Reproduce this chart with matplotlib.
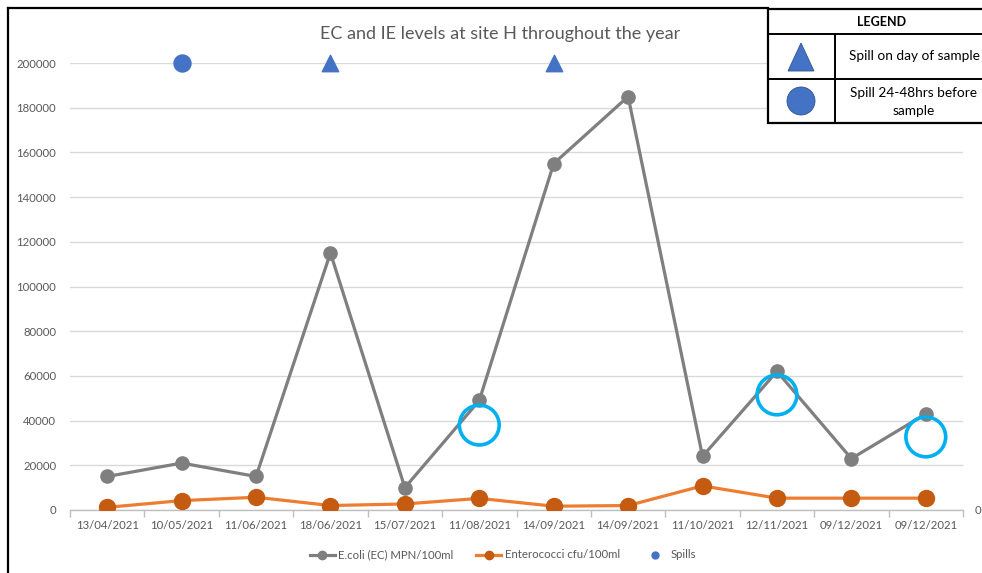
import matplotlib
matplotlib.use("Agg")
import matplotlib.pyplot as plt
from matplotlib.lines import Line2D
from matplotlib.patches import Circle, Polygon, Rectangle

plt.rcParams['font.family'] = ['Lato', 'DejaVu Sans']

# Sampling dates and measured levels
dates = ["13/04/2021", "10/05/2021", "11/06/2021", "18/06/2021", "15/07/2021",
         "11/08/2021", "14/09/2021", "14/09/2021", "11/10/2021", "12/11/2021",
         "09/12/2021", "09/12/2021"]
ecoli = [15000, 21000, 15000, 115000, 10000, 49000, 155000, 185000,
         24000, 62000, 23000, 43000]
enterococci = [1200, 4200, 5700, 2000, 2700, 5200, 1700, 2000,
               10800, 5300, 5300, 5300]

# Spill events, plotted on the top gridline
spill_level = 200000
spill_day_idx = [3, 6]        # spill on day of sample
spill_prior_idx = [1]         # spill 24-48 hrs before sample

# Highlighted samples (open rings)
ring_idx = [5, 9, 11]
ring_vals = [38000, 51500, 32700]

yticks = [0, 20000, 40000, 60000, 80000, 100000, 120000, 140000,
          160000, 180000, 200000]

GRAY = "#7F7F7F"
ORANGE_LINE = "#ED7D31"
ORANGE_MARK = "#C55A11"
BLUE = "#4472C4"
CYAN = "#00B0F0"
TXT = "#595959"

W, H = 982, 573
fig = plt.figure(figsize=(W / 100, H / 100), dpi=100)

ax_l, ax_r, ax_b, ax_t = 70, 963, 510, 63
ax = fig.add_axes([ax_l / W, 1 - ax_b / H, (ax_r - ax_l) / W, (ax_b - ax_t) / H])

x = list(range(len(dates)))
ax.plot(x, ecoli, color=GRAY, lw=2.3, marker='o', ms=9.5,
        label="E.coli (EC) MPN/100ml", zorder=3)
ax.plot(x, enterococci, color=ORANGE_LINE, lw=2.3, marker='o', ms=11.5,
        mfc=ORANGE_MARK, mec=ORANGE_MARK, label="Enterococci cfu/100ml", zorder=3)

ax.scatter(spill_prior_idx, [spill_level] * len(spill_prior_idx), s=150,
           marker='o', color=BLUE, clip_on=False, zorder=4)
ax.scatter(spill_day_idx, [spill_level] * len(spill_day_idx), s=140,
           marker='^', color=BLUE, clip_on=False, zorder=4)

ax.scatter(ring_idx, ring_vals, s=820, marker='o', facecolors='none',
           edgecolors=CYAN, linewidths=2.6, zorder=5)

ax.set_xlim(-0.5, len(dates) - 0.5)
ax.set_ylim(0, 200000)
ax.set_yticks(yticks)
ax.set_yticklabels([str(v) for v in yticks])
ax.set_xticks(x)
ax.set_xticklabels(dates)
ax.set_xticks([i - 0.5 for i in range(len(dates) + 1)], minor=True)
ax.tick_params(axis='x', which='major', length=0, pad=7, labelsize=8.2, labelcolor=TXT)
ax.tick_params(axis='x', which='minor', length=5, color="#BFBFBF", width=1)
ax.tick_params(axis='y', length=0, pad=10, labelsize=8.2, labelcolor=TXT)

ax.grid(axis='y', color="#D9D9D9", lw=1)
ax.set_axisbelow(True)
for s in ['top', 'right', 'left']:
    ax.spines[s].set_visible(False)
ax.spines['bottom'].set_color("#BFBFBF")
ax.spines['bottom'].set_linewidth(1)

# secondary axis with only the zero label
ax2 = ax.twinx()
ax2.set_ylim(0, 200000)
ax2.set_yticks([0])
ax2.set_yticklabels(["0"])
ax2.tick_params(axis='y', length=0, pad=8.5, labelsize=8.2, labelcolor=TXT)
for s in ax2.spines.values():
    s.set_visible(False)

fig.text(500 / W, 1 - 34 / H, "EC and IE levels at site H throughout the year",
         ha='center', va='center', fontsize=13, color=TXT)

handles = [
    Line2D([], [], color=GRAY, lw=2.3, marker='o', ms=6),
    Line2D([], [], color=ORANGE_LINE, lw=2.3, marker='o', ms=6,
           mfc=ORANGE_MARK, mec=ORANGE_MARK),
    Line2D([], [], color=BLUE, lw=0, marker='o', ms=5),
]
fig.legend(handles, ["E.coli (EC) MPN/100ml", "Enterococci cfu/100ml", "Spills"],
           loc='center', bbox_to_anchor=(503 / W, 1 - 555 / H), ncol=3,
           frameon=False, fontsize=8.2, labelcolor=TXT, handlelength=2.2,
           handletextpad=0.3, columnspacing=2.0)

# outer frame (left and top edges)
fig.add_artist(Line2D([8 / W, 8 / W], [0, 1 - 8 / H], color='black', lw=1.6,
                      transform=fig.transFigure))
fig.add_artist(Line2D([8 / W, 768 / W], [1 - 8 / H, 1 - 8 / H], color='black',
                      lw=1.6, transform=fig.transFigure))

# key table in the upper-right corner (pixel coordinates)
tx0, ty0, tx1, ty1 = 767, 8, 982, 124
kax = fig.add_axes([tx0 / W, 1 - ty1 / H, (tx1 - tx0) / W, (ty1 - ty0) / H])
kax.set_xlim(0, tx1 - tx0)
kax.set_ylim(ty1 - ty0, 0)
kax.axis('off')
kw, kh = tx1 - tx0, ty1 - ty0
kax.add_patch(Rectangle((1, 1), kw + 5, kh - 2, fill=True, facecolor='white',
                        edgecolor='black', lw=1.6, clip_on=False))
kax.plot([0, kw], [26, 26], color='black', lw=1.4)
kax.plot([0, kw], [71, 71], color='black', lw=1.4)
kax.plot([68, 68], [26, kh], color='black', lw=1.4)
kax.text(115, 14, "LEGEND", ha='center', va='center', fontsize=9,
         fontweight='bold', color='black')
kax.add_patch(Polygon([[21, 63], [47, 63], [34, 35]], closed=True,
                      facecolor=BLUE, edgecolor="#2F528F", lw=0.6))
kax.add_patch(Circle((34, 93), 14, facecolor=BLUE, edgecolor="#2F528F", lw=0.6))
kax.text(147, 48, "Spill on day of sample", ha='center', va='center',
         fontsize=9.8, color='black')
kax.text(147, 94, "Spill 24-48hrs before\nsample", ha='center', va='center',
         fontsize=9.8, color='black', linespacing=1.65)

fig.savefig("out.png", dpi=100, facecolor='white')
